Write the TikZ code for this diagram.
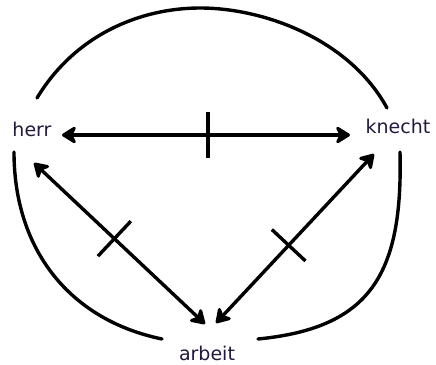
\documentclass[tikz,border=0pt]{standalone}
\usepackage{fontspec}
\setmainfont{DejaVu Sans}
\usetikzlibrary{arrows.meta,calc}
\definecolor{txt}{RGB}{35,25,60}
\tikzset{
  lbl/.style={font=\fontsize{19}{22}\selectfont, text=txt, inner sep=0pt},
  curve/.style={line width=3.4pt, line cap=round},
  rel/.style={line width=3.4pt, {Stealth[length=17pt,width=21pt,inset=5pt,round]}-{Stealth[length=17pt,width=21pt,inset=5pt,round]}},
  tickmark/.style={line width=3.4pt}
}
\begin{document}
\begin{tikzpicture}[x=1pt,y=-1pt]
\useasboundingbox (0,0) rectangle (436,364);
% labels
\node[lbl] (herr) at (32,129) {herr};
\node[lbl] (knecht) at (398,126) {knecht};
\node[lbl] (arbeit) at (207,353) {arbeit};
% arrow ends
\coordinate (h1) at (62,135);
\coordinate (k1) at (350,135);
\coordinate (h2) at (34,163);
\coordinate (a1) at (205,324);
\coordinate (k2) at (374,154);
\coordinate (a2) at (216,323);
% arcs
\draw[curve] (37,98) .. controls (75,35) and (140,8) .. (200,8)
  .. controls (265,8) and (350,40) .. (387,108);
\draw[curve] (14,152) .. controls (14,250) and (70,320) .. (162,339);
\draw[curve] (400,152) .. controls (403,275) and (370,328) .. (258,339);
% relations
\draw[rel] (h1) -- (k1);
\draw[rel] (h2) -- (a1);
\draw[rel] (k2) -- (a2);
% ticks
\coordinate (m1) at ($(h1)!0.507!(k1)$);
\draw[tickmark] ($(m1)!23pt!90:(k1)$) -- ($(m1)!23pt!-90:(k1)$);
\coordinate (m2) at ($(h2)!0.47!(a1)$);
\draw[tickmark] ($(m2)!24pt!90:(a1)$) -- ($(m2)!24pt!-90:(a1)$);
\coordinate (m3) at ($(k2)!0.54!(a2)$);
\draw[tickmark] ($(m3)!23pt!90:(a2)$) -- ($(m3)!23pt!-90:(a2)$);
\end{tikzpicture}
\end{document}
